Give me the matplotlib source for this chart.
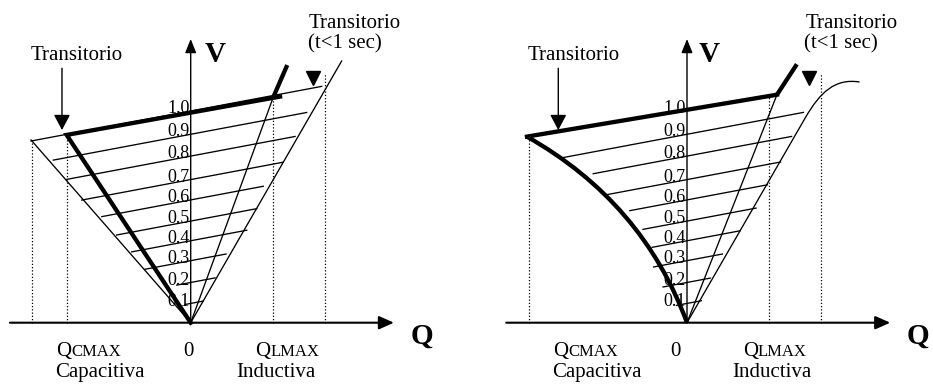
import matplotlib
matplotlib.use('Agg')
import matplotlib.pyplot as plt
from matplotlib.path import Path
from matplotlib.patches import PathPatch

plt.rcParams['font.family'] = ['Liberation Serif', 'DejaVu Serif']

# ---------------- data (Q and V in per-unit of the drawing) ----------------
level_labels = ['0.1', '0.2', '0.3', '0.4', '0.5', '0.6', '0.7', '0.8', '0.9', '1.0']
level_cross = [0.091, 0.19, 0.293, 0.387, 0.48, 0.58, 0.676, 0.787, 0.89, 1.0]
load_slope = 0.188

# left panel (linear limits)
left_level_q_start = [-0.027, -0.066, -0.216, -0.279, -0.350, -0.420, -0.515, -0.586, -0.649, -0.754]
left_level_q_end = [0.060, 0.115, 0.167, 0.265, 0.312, 0.343, 0.437, 0.493, 0.548, 0.619]
left_cap_outer_q = [0.0, -0.754]
left_cap_outer_v = [0.0, 0.863]
left_ind_inner_q = [0.0, 0.390]
left_ind_inner_v = [0.0, 1.065]
left_ind_outer_q = [0.0, 0.713]
left_ind_outer_v = [0.0, 1.236]
left_thick_q = [0.0, -0.586, 0.422]
left_thick_v = [0.0, 0.887, 1.068]
left_tip_q = [0.390, 0.456]
left_tip_v = [1.065, 1.217]
left_dot_q = [-0.748, -0.586, 0.390, 0.634]
left_dot_top = [0.863, 0.887, 1.065, 1.175]

# right panel (curved limits)
right_level_q_start = [-0.050, -0.113, -0.158, -0.165, -0.208, -0.270, -0.380, -0.443, -0.584]
right_level_q_end = [0.068, 0.110, 0.167, 0.250, 0.326, 0.380, 0.442, 0.494, 0.550]
right_thick_top_q = [-0.756, 0.425]
right_thick_top_v = [0.879, 1.077]
right_tip_q = [0.425, 0.519]
right_tip_v = [1.077, 1.221]
right_cap_curve_q = [0.0, -0.21, -0.756]      # quadratic Bezier control points
right_cap_curve_v = [0.0, 0.57, 0.879]
right_ind_inner_q = [0.0, 0.425]
right_ind_inner_v = [0.0, 1.077]
right_ind_outer_q = [0.0, 0.56, 0.63, 0.70, 0.815]  # line + cubic Bezier
right_ind_outer_v = [0.0, 0.97, 1.09, 1.155, 1.137]
right_dot_q = [-0.748, 0.387, 0.632]
right_dot_top = [0.871, 1.068, 1.175]

# labels
zero_label_q = {'left': -0.013, 'right': -0.054}
qc_label_q = {'left': -0.562, 'right': -0.562}
ql_label_q = {'left': 0.375, 'right': 0.335}
cap_label_q = -0.428
ind_label_q = 0.400
v_label_q = {'left': 0.117, 'right': 0.106}

# ---------------- figure ----------------
W, H = 933, 387
fig = plt.figure(figsize=(W / 100, H / 100), dpi=100)
k = 211.7
ylim = ((322.7 - 387) / k, 322.7 / k)
ax_l = fig.add_axes([0, 0, 0.5, 1])
ax_r = fig.add_axes([0.5, 0, 0.5, 1])
ax_l.set_xlim((0 - 190.7) / k, (466.5 - 190.7) / k)
ax_r.set_xlim((466.5 - 687.0) / k, (933 - 687.0) / k)
for ax in (ax_l, ax_r):
    ax.set_ylim(*ylim)
    ax.axis('off')

THIN = 0.95
THICK = 3.1
TXT = 15


def arrow(ax, start, end, hl, hw, lw):
    ax.annotate('', xy=end, xytext=start, annotation_clip=False,
                arrowprops=dict(arrowstyle=f'-|>,head_length={hl},head_width={hw}',
                                lw=lw, color='black', shrinkA=0, shrinkB=0,
                                mutation_scale=20))


def common(ax, side):
    # axes
    arrow(ax, (-0.854, 0), (0.960, 0), 0.45, 0.2, 1.5)
    arrow(ax, (0, 0), (0, 1.340), 0.42, 0.17, 1.0)
    ax.text(v_label_q[side], 1.232, 'V', fontsize=21, fontweight='bold',
            ha='center', va='baseline')
    ax.text(1.093, -0.097, 'Q', fontsize=21, fontweight='bold',
            ha='center', va='baseline')
    # level tick labels
    for lab, c in zip(level_labels, level_cross):
        ax.text(-0.006, c - 0.01, lab, fontsize=13, ha='right', va='baseline',
                zorder=2)
    # bottom labels
    ax.text(zero_label_q[side], -0.158, '0', fontsize=TXT, ha='center', va='baseline')
    ax.text(qc_label_q[side], -0.158, 'Q', fontsize=TXT, ha='right', va='baseline')
    ax.text(qc_label_q[side], -0.158, 'CMAX', fontsize=12, ha='left', va='baseline')
    ax.text(ql_label_q[side], -0.158, 'Q', fontsize=TXT, ha='right', va='baseline')
    ax.text(ql_label_q[side], -0.158, 'LMAX', fontsize=12, ha='left', va='baseline')
    ax.text(cap_label_q, -0.257, 'Capacitiva', fontsize=TXT, ha='center', va='baseline')
    ax.text(ind_label_q, -0.257, 'Inductiva', fontsize=TXT, ha='center', va='baseline')
    # transient annotations
    ax.text(-0.537, 1.241, 'Transitorio', fontsize=TXT, ha='center', va='baseline')
    arrow(ax, (-0.608, 1.202), (-0.608, 0.910), 0.47, 0.25, 1.0)
    ax.text(0.558, 1.390, 'Transitorio', fontsize=TXT, ha='left', va='baseline')
    ax.text(0.552, 1.295, '(t<1 sec)', fontsize=TXT, ha='left', va='baseline')
    ax.plot([0.576], [1.157], marker='v', ms=9.5, color='black', clip_on=False)


def dotted(ax, qs, tops):
    for q, t in zip(qs, tops):
        ax.plot([q, q], [0, t], color='black', lw=0.9, ls=(0, (1, 1.6)),
                clip_on=False)


# ---------------- left panel ----------------
ax = ax_l
common(ax, 'left')
dotted(ax, left_dot_q, left_dot_top)
for c, q0, q1 in zip(level_cross, left_level_q_start, left_level_q_end):
    ax.plot([q0, q1], [c + load_slope * q0, c + load_slope * q1],
            color='black', lw=THIN, zorder=3)
ax.plot(left_cap_outer_q, left_cap_outer_v, color='black', lw=THIN, zorder=3)
ax.plot(left_ind_inner_q, left_ind_inner_v, color='black', lw=THIN, zorder=3)
ax.plot(left_ind_outer_q, left_ind_outer_v, color='black', lw=THIN, zorder=3)
ax.plot(left_thick_q, left_thick_v, color='black', lw=THICK, zorder=4,
        solid_joinstyle='miter')
ax.plot(left_tip_q, left_tip_v, color='black', lw=THICK, zorder=4,
        solid_capstyle='butt')

# ---------------- right panel ----------------
ax = ax_r
common(ax, 'right')
dotted(ax, right_dot_q, right_dot_top)
for c, q0, q1 in zip(level_cross[:-1], right_level_q_start, right_level_q_end):
    ax.plot([q0, q1], [c + load_slope * q0, c + load_slope * q1],
            color='black', lw=THIN, zorder=3)
ax.plot(right_ind_inner_q, right_ind_inner_v, color='black', lw=THIN, zorder=3)
outer = Path(list(zip(right_ind_outer_q, right_ind_outer_v)),
             [Path.MOVETO, Path.LINETO, Path.CURVE4, Path.CURVE4, Path.CURVE4])
ax.add_patch(PathPatch(outer, fill=False, lw=THIN, edgecolor='black', zorder=3))
cap = Path(list(zip(right_cap_curve_q, right_cap_curve_v)),
           [Path.MOVETO, Path.CURVE3, Path.CURVE3])
ax.add_patch(PathPatch(cap, fill=False, lw=THICK, edgecolor='black', zorder=4))
ax.plot(right_thick_top_q, right_thick_top_v, color='black', lw=THICK, zorder=4)
ax.plot(right_tip_q, right_tip_v, color='black', lw=THICK, zorder=4,
        solid_capstyle='butt')

fig.savefig('out.png', dpi=100)
